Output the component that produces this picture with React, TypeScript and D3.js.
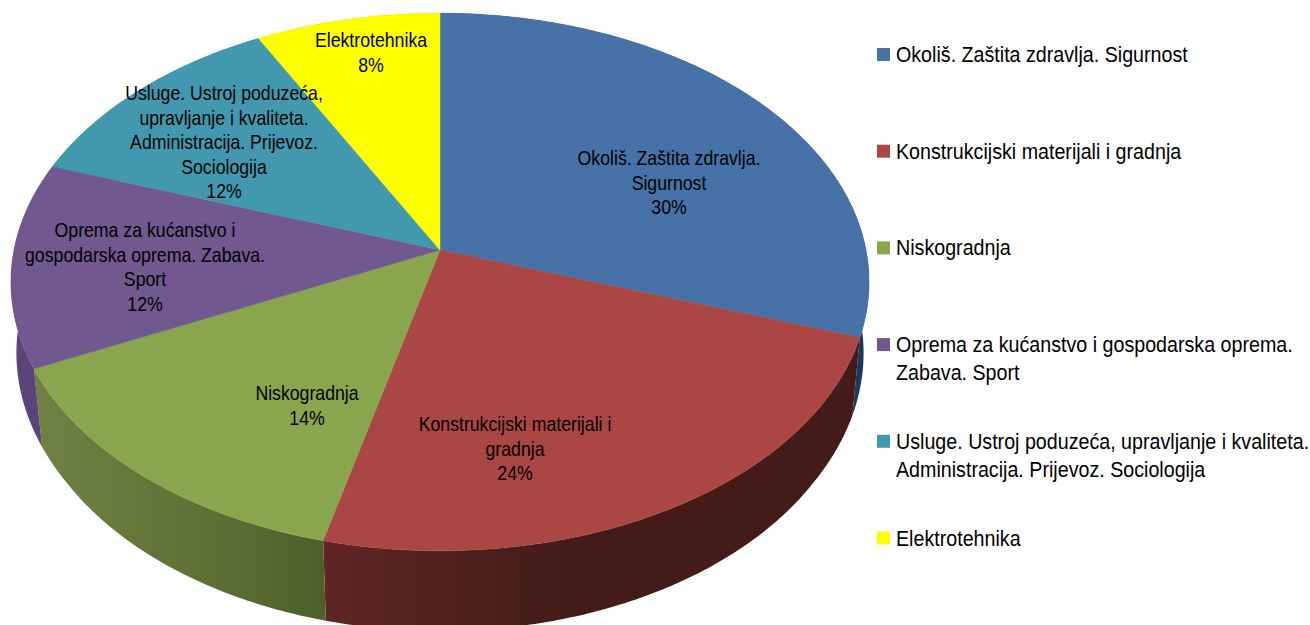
import React from "react";
import * as d3 from "d3";

const categories = [
  "Okoliš. Zaštita zdravlja. Sigurnost",
  "Konstrukcijski materijali i gradnja",
  "Niskogradnja",
  "Oprema za kućanstvo i gospodarska oprema. Zabava. Sport",
  "Usluge. Ustroj poduzeća, upravljanje i kvaliteta. Administracija. Prijevoz. Sociologija",
  "Elektrotehnika",
];
const shares = [30.15, 23.75, 14.1, 12.3, 11.9, 7.8];
const sliceColors = ["#4672a8", "#aa4643", "#89a54e", "#71588f", "#4198af", "#ffff00"];

const labelLines = [
  ["Okoliš. Zaštita zdravlja.", "Sigurnost"],
  ["Konstrukcijski materijali i", "gradnja"],
  ["Niskogradnja"],
  ["Oprema za kućanstvo i", "gospodarska oprema. Zabava.", "Sport"],
  ["Usluge. Ustroj poduzeća,", "upravljanje i kvaliteta.", "Administracija. Prijevoz.", "Sociologija"],
  ["Elektrotehnika"],
];
const legendLines = [
  ["Okoliš. Zaštita zdravlja. Sigurnost"],
  ["Konstrukcijski materijali i gradnja"],
  ["Niskogradnja"],
  ["Oprema za kućanstvo i gospodarska oprema.", "Zabava. Sport"],
  ["Usluge. Ustroj poduzeća, upravljanje i kvaliteta.", "Administracija. Prijevoz. Sociologija"],
  ["Elektrotehnika"],
];

// Layout
const W = 1310, H = 625;
const CX = 440, CY = 250, A = 426, B = 265, K = 0.119;
const WALL_SY = 1.012, WALL_Y0 = 370, WALL_Y1 = 448;
const LABEL_X = [669, 515, 307, 145, 224, 371];
const LABEL_Y = [165, 431, 400, 237, 100, 47];
const LABEL_STEP = 24.5;
const FONT = "'Liberation Sans', Arial, sans-serif";
const SX_LABEL = 0.885;
const SX_LEGEND = 0.894;

const project = (angle: number, r = 1): [number, number] => {
  const u = r * Math.sin(angle), v = r * Math.cos(angle);
  const w = 1 + K * v;
  return [CX + (A * u) / w, CY - (B * v) / w];
};
const lower = ([x, y]: [number, number]): [number, number] => {
  const sx = Math.max(0.977, 0.98 - (y - WALL_Y0) * 0.00008);
  return [CX + (x - CX) * sx, WALL_Y1 + (y - WALL_Y0) * WALL_SY];
};

const arcPts = (a0: number, a1: number) => {
  const n = Math.max(2, Math.ceil((a1 - a0) / 0.01));
  return d3.range(n + 1).map((i) => project(a0 + ((a1 - a0) * i) / n));
};

const line = d3.line<[number, number]>().x((d) => d[0]).y((d) => d[1]);
const arcs = d3.pie<number>().sort(null)(shares);

const wallFill = ["#1b3a5e", "url(#wallRed)", "url(#wallGreen)", "#5a4478", "#2f7285", "#a8a800"];

export default function App() {
  const legendY = d3.scaleLinear().domain([0, 5]).range([54.5, 538]);
  return (
    <svg
      width={W}
      height={H}
      viewBox={`0 0 ${W} ${H}`}
      style={{ position: "absolute", left: 0, top: 0, display: "block", background: "#fff" }}
    >
      <defs>
        <linearGradient id="wallGreen" gradientUnits="userSpaceOnUse" x1={35} x2={325} y1={0} y2={0}>
          <stop offset="0" stopColor="#6f8244" />
          <stop offset="0.35" stopColor="#66773a" />
          <stop offset="0.7" stopColor="#5a6c31" />
          <stop offset="1" stopColor="#4e5f2c" />
        </linearGradient>
        <linearGradient id="wallRed" gradientUnits="userSpaceOnUse" x1={325} x2={560} y1={0} y2={0}>
          <stop offset="0" stopColor="#5f2625" />
          <stop offset="1" stopColor="#431c19" />
        </linearGradient>
      </defs>

      {arcs.map((a, i) => {
        const top = arcPts(a.startAngle, a.endAngle);
        const bottom = top.map(lower).reverse();
        return <path key={i} d={line([...top, ...bottom])! + "Z"} fill={wallFill[i]} />;
      })}

      {arcs.map((a, i) => (
        <path
          key={i}
          d={line([[CX, CY], ...arcPts(a.startAngle, a.endAngle)])! + "Z"}
          fill={sliceColors[i]}
          stroke={sliceColors[i]}
          strokeWidth={0.5}
        />
      ))}

      {labelLines.map((lines, i) =>
        [...lines, `${Math.round(shares[i])}%`].map((t, j) => (
          <text
            key={`${i}-${j}`}
            transform={`translate(${LABEL_X[i]},${LABEL_Y[i] + j * LABEL_STEP}) scale(${SX_LABEL},1)`}
            textAnchor="middle"
            fontFamily={FONT}
            fontSize={20}
            fill="#000"
          >
            {t}
          </text>
        ))
      )}

      {categories.map((c, i) => (
        <g key={c}>
          <rect x={877} y={legendY(i) - 6.5} width={13} height={13} fill={sliceColors[i]} />
          {legendLines[i].map((t, j) => (
            <text
              key={j}
              transform={`translate(896,${legendY(i) + 7.5 + j * 28}) scale(${SX_LEGEND},1)`}
              fontFamily={FONT}
              fontSize={22}
              fill="#000"
            >
              {t}
            </text>
          ))}
        </g>
      ))}
    </svg>
  );
}
